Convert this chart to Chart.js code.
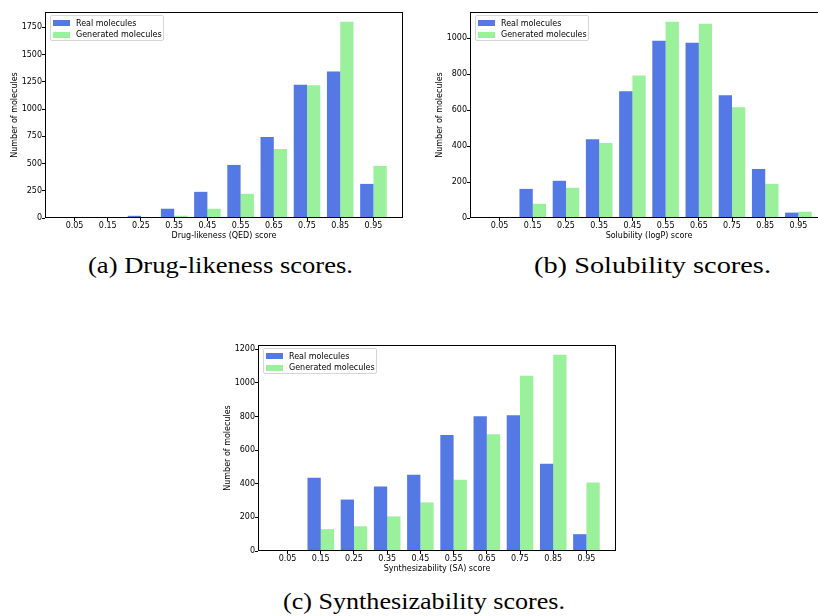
<!DOCTYPE html>
<html>
<head>
<meta charset="utf-8">
<script src="https://cdn.jsdelivr.net/npm/chart.js@4.4.0/dist/chart.umd.min.js"></script>
<style>
html,body{margin:0;padding:0;width:818px;height:616px;overflow:hidden;background:#fff;}
canvas{position:absolute;}
.legend{position:absolute;font-family:"DejaVu Sans",sans-serif;font-size:8px;color:#000;background:rgba(255,255,255,0.8);border:1px solid #d6d6d6;border-radius:2px;box-sizing:border-box;padding:1px 3px 0 2px;}
.legend .row{height:11.7px;display:flex;align-items:center;white-space:nowrap;}
.legend .sw{width:17px;height:6px;margin-right:6px;flex:none;}
.cap{position:absolute;font-family:"Liberation Serif",serif;font-size:24px;line-height:24px;white-space:nowrap;transform-origin:0 0;color:#000;}
</style>
</head>
<body>
<canvas id="chartA" width="405" height="242" style="left:0px;top:0px"></canvas>
<canvas id="chartB" width="405" height="242" style="left:425px;top:0px"></canvas>
<canvas id="chartC" width="405" height="242" style="left:213px;top:333px"></canvas>
<div class="cap" id="capA" data-w="265" style="left:88px;top:253px">(a) Drug-likeness scores.</div>
<div class="cap" id="capB" data-w="237" style="left:534px;top:253px">(b) Solubility scores.</div>
<div class="cap" id="capC" data-w="282" style="left:283px;top:589px">(c) Synthesizability scores.</div>
<script>
// ---- data ----
const scoreBins = ['0.05','0.15','0.25','0.35','0.45','0.55','0.65','0.75','0.85','0.95'];
const seriesLabels = ['Real molecules','Generated molecules'];

const qedReal = [0, 0, 20, 85, 240, 487, 743, 1223, 1345, 313];
const qedGen  = [0, 0, 0, 21, 85, 222, 633, 1217, 1800, 478];
const qedTicks = [0, 250, 500, 750, 1000, 1250, 1500, 1750];

const logpReal = [0, 162, 207, 439, 705, 987, 976, 683, 273, 30];
const logpGen  = [0, 79, 168, 417, 793, 1092, 1081, 616, 190, 35];
const logpTicks = [0, 200, 400, 600, 800, 1000];

const saReal = [5, 436, 306, 383, 454, 690, 802, 807, 519, 100];
const saGen  = [4, 130, 147, 206, 289, 424, 695, 1043, 1167, 407];
const saTicks = [0, 200, 400, 600, 800, 1000, 1200];

const realColor = 'rgba(65,105,225,0.9)';
const genColor  = 'rgba(144,238,144,0.9)';
const binValues = scoreBins.map(Number);

const FONT = {family:'"DejaVu Sans", sans-serif', size:8};

const framePlugin = {
  id:'frame',
  afterDatasetsDraw(chart){
    const {ctx, chartArea:a} = chart;
    ctx.save();
    ctx.strokeStyle = '#000';
    ctx.lineWidth = 1;
    const l = Math.round(a.left)+0.5, t = Math.round(a.top)+0.5;
    const r = Math.round(a.right)-0.5, b = Math.round(a.bottom)-0.5;
    ctx.strokeRect(l, t, r-l, b-t);
    ctx.restore();
  }
};

function makeChart(id, real, gen, yTicks, xTitle){
  const yMax = Math.max(...real, ...gen) * 1.05;
  const canvas = document.getElementById(id);
  const chart = new Chart(canvas, {
    type:'bar',
    data:{
      datasets:[
        {label:seriesLabels[0], data:real.map((v,i)=>({x:binValues[i], y:v})), backgroundColor:realColor, borderWidth:0, categoryPercentage:0.8, barPercentage:1.0},
        {label:seriesLabels[1], data:gen.map((v,i)=>({x:binValues[i], y:v})), backgroundColor:genColor, borderWidth:0, categoryPercentage:0.8, barPercentage:1.0}
      ]
    },
    options:{
      responsive:false,
      animation:false,
      devicePixelRatio:1,
      layout:{padding:{top:12, right:2, left:0, bottom:0}},
      plugins:{legend:{display:false}, tooltip:{enabled:false}},
      scales:{
        x:{
          type:'linear', min:-0.039, max:1.039, offset:false,
          afterBuildTicks:s=>{ s.ticks = binValues.map(v=>({value:v})); },
          afterFit:s=>{ s.height = 24; },
          grid:{offset:false, drawOnChartArea:false, drawTicks:true, tickLength:3, color:'#000'},
          border:{display:false},
          ticks:{autoSkip:false, maxRotation:0, minRotation:0, padding:0, color:'#000', font:FONT,
                 callback:(v,i)=>scoreBins[i]},
          title:{display:true, text:xTitle, color:'#000', font:FONT, padding:{top:0,bottom:1}}
        },
        y:{
          min:0, max:yMax,
          afterBuildTicks:s=>{ s.ticks = yTicks.map(v=>({value:v})); },
          afterFit:s=>{ s.width = 45; },
          grid:{drawOnChartArea:false, drawTicks:true, tickLength:3, color:'#000'},
          border:{display:false},
          ticks:{padding:0, color:'#000', font:FONT, callback:v=>String(v)},
          title:{display:true, text:'Number of molecules', color:'#000', font:FONT, padding:{top:10.5,bottom:0}}
        }
      }
    },
    plugins:[framePlugin]
  });
  // HTML legend built from the chart's datasets
  const a = chart.chartArea;
  const left = parseFloat(canvas.style.left) + a.left + 5;
  const top = parseFloat(canvas.style.top) + a.top + 3.3;
  const lg = document.createElement('div');
  lg.className = 'legend';
  lg.style.left = left+'px'; lg.style.top = top+'px';
  lg.style.width = '114px'; lg.style.height = '26px';
  chart.data.datasets.forEach(ds=>{
    const row = document.createElement('div'); row.className='row';
    const sw = document.createElement('span'); sw.className='sw'; sw.style.background = ds.backgroundColor;
    const tx = document.createElement('span'); tx.textContent = ds.label;
    row.appendChild(sw); row.appendChild(tx); lg.appendChild(row);
  });
  document.body.appendChild(lg);
  return chart;
}

makeChart('chartA', qedReal, qedGen, qedTicks, 'Drug-likeness (QED) score');
makeChart('chartB', logpReal, logpGen, logpTicks, 'Solubility (logP) score');
makeChart('chartC', saReal, saGen, saTicks, 'Synthesizability (SA) score');

document.querySelectorAll('.cap').forEach(el=>{
  const w = el.getBoundingClientRect().width;
  const target = parseFloat(el.dataset.w);
  el.style.transform = 'scaleX(' + (target/w) + ')';
});
</script>
</body>
</html>
